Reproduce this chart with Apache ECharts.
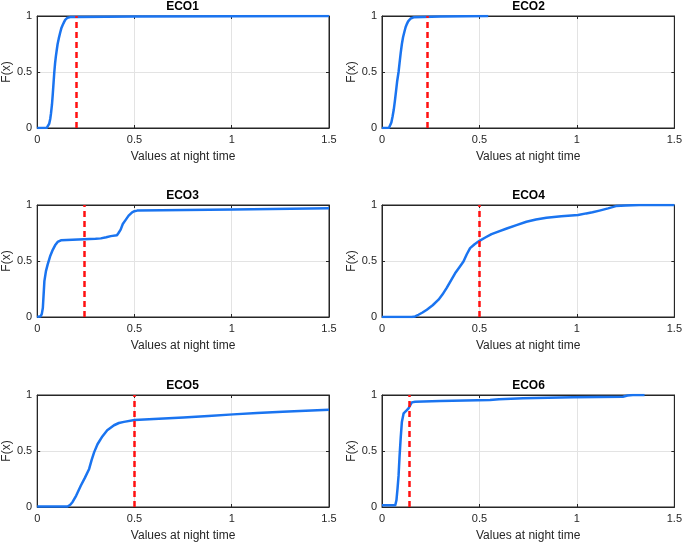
<!DOCTYPE html>
<html>
<head>
<meta charset="utf-8">
<script src="https://cdn.jsdelivr.net/npm/echarts@6/dist/echarts.min.js"></script>
<style>html,body{margin:0;padding:0;background:#fff}#c{width:685px;height:543px}</style>
</head>
<body>
<div id="c"></div>
<script>
const titles = ['ECO1','ECO2','ECO3','ECO4','ECO5','ECO6'];
const thresholds = [0.2, 0.233, 0.24, 0.5, 0.5, 0.14];
const xTicks = [0, 0.5, 1, 1.5];
const yTicks = [0, 0.5, 1];

const eco1X = [0, 0.05, 0.056, 0.062, 0.067, 0.071, 0.076, 0.08, 0.084, 0.088, 0.092, 0.096, 0.1, 0.105, 0.111, 0.118, 0.124, 0.131, 0.138, 0.144, 0.15, 0.156, 0.163, 0.17, 0.207, 0.5, 1.0, 1.5];
const eco1Y = [0, 0.003, 0.01, 0.04, 0.08, 0.13, 0.21, 0.3, 0.4, 0.5, 0.58, 0.64, 0.69, 0.75, 0.8, 0.85, 0.89, 0.92, 0.945, 0.965, 0.977, 0.985, 0.989, 0.99, 0.992, 0.995, 0.998, 1.0];

const eco2X = [0, 0.036, 0.042, 0.048, 0.054, 0.06, 0.066, 0.072, 0.078, 0.085, 0.09, 0.096, 0.102, 0.108, 0.115, 0.121, 0.128, 0.134, 0.14, 0.147, 0.153, 0.162, 0.17, 0.3, 0.545];
const eco2Y = [0, 0.003, 0.015, 0.05, 0.1, 0.16, 0.24, 0.33, 0.42, 0.5, 0.58, 0.67, 0.75, 0.81, 0.86, 0.9, 0.93, 0.952, 0.968, 0.978, 0.985, 0.988, 0.99, 0.995, 1.0];

const eco3X = [0, 0.018, 0.024, 0.029, 0.033, 0.037, 0.045, 0.054, 0.066, 0.08, 0.092, 0.105, 0.113, 0.122, 0.24, 0.3, 0.327, 0.355, 0.378, 0.41, 0.418, 0.429, 0.44, 0.454, 0.47, 0.488, 0.5, 0.514, 1.007, 1.5];
const eco3Y = [0, 0.006, 0.03, 0.08, 0.2, 0.32, 0.41, 0.47, 0.54, 0.6, 0.64, 0.67, 0.68, 0.685, 0.695, 0.698, 0.702, 0.712, 0.722, 0.73, 0.75, 0.78, 0.83, 0.865, 0.905, 0.935, 0.945, 0.95, 0.96, 0.97];

const eco4X = [0, 0.153, 0.17, 0.187, 0.208, 0.23, 0.26, 0.29, 0.31, 0.332, 0.355, 0.375, 0.4, 0.418, 0.435, 0.452, 0.475, 0.5, 0.53, 0.562, 0.6, 0.64, 0.69, 0.741, 0.79, 0.844, 0.92, 1.006, 1.048, 1.08, 1.116, 1.16, 1.2, 1.25, 1.32, 1.5];
const eco4Y = [0, 0, 0.005, 0.02, 0.04, 0.065, 0.105, 0.155, 0.2, 0.26, 0.33, 0.39, 0.45, 0.495, 0.56, 0.615, 0.65, 0.68, 0.71, 0.74, 0.765, 0.79, 0.82, 0.85, 0.87, 0.887, 0.9, 0.91, 0.925, 0.935, 0.95, 0.97, 0.99, 0.995, 1.0, 1.0];

const eco5X = [0, 0.156, 0.17, 0.182, 0.2, 0.224, 0.245, 0.267, 0.28, 0.293, 0.31, 0.335, 0.36, 0.395, 0.42, 0.446, 0.5, 0.6, 0.752, 0.88, 1.007, 1.13, 1.262, 1.38, 1.5];
const eco5Y = [0.005, 0.005, 0.02, 0.045, 0.1, 0.19, 0.26, 0.34, 0.42, 0.49, 0.56, 0.63, 0.685, 0.73, 0.75, 0.76, 0.776, 0.785, 0.80, 0.813, 0.827, 0.84, 0.851, 0.86, 0.869];

const eco6X = [0, 0.068, 0.074, 0.08, 0.085, 0.09, 0.096, 0.102, 0.111, 0.125, 0.136, 0.145, 0.153, 0.17, 0.298, 0.554, 0.6, 0.724, 0.98, 1.236, 1.26, 1.287, 1.347];
const eco6Y = [0.015, 0.015, 0.06, 0.17, 0.28, 0.45, 0.62, 0.76, 0.836, 0.86, 0.88, 0.91, 0.934, 0.94, 0.946, 0.955, 0.962, 0.97, 0.979, 0.985, 0.995, 1.0, 1.0];

const seriesX = [eco1X, eco2X, eco3X, eco4X, eco5X, eco6X];
const seriesY = [eco1Y, eco2Y, eco3Y, eco4Y, eco5Y, eco6Y];

const FONT = '"Liberation Sans", Arial, Helvetica, sans-serif';
const TXT = '#262626';
const lefts = [36, 382];
const tops = [16, 205, 395];
const W = 293, H = 112;

const grids = [], xAxes = [], yAxes = [], series = [], titleOpts = [];
for (let i = 0; i < 6; i++) {
  const col = i % 2, row = Math.floor(i / 2);
  const left = lefts[col], top = tops[row];
  grids.push({left: left, top: top, width: W, height: H, show: true, borderColor: TXT, borderWidth: 1, backgroundColor: '#fff'});
  titleOpts.push({text: titles[i], left: left + W / 2, top: top - 15, textAlign: 'center', padding: 0,
    textStyle: {fontFamily: FONT, fontSize: 12, fontWeight: 'bold', color: '#000'}});
  xAxes.push({type: 'value', gridIndex: i, min: xTicks[0], max: xTicks[xTicks.length - 1], interval: 0.5,
    name: 'Values at night time', nameLocation: 'middle', nameGap: 23,
    nameTextStyle: {fontFamily: FONT, fontSize: 12, color: TXT},
    axisLine: {show: true, onZero: false, lineStyle: {color: TXT}},
    axisTick: {show: true, inside: true, length: 3, lineStyle: {color: TXT}},
    axisLabel: {fontFamily: FONT, fontSize: 11, color: TXT, margin: 6},
    splitLine: {show: true, lineStyle: {color: '#e3e3e3', width: 1}}});
  xAxes.push({type: 'value', gridIndex: i, position: 'top', min: xTicks[0], max: xTicks[xTicks.length - 1], interval: 0.5,
    axisLine: {show: true, onZero: false, lineStyle: {color: TXT}},
    axisTick: {show: true, inside: true, length: 3, lineStyle: {color: TXT}},
    axisLabel: {show: false}, splitLine: {show: false}});
  yAxes.push({type: 'value', gridIndex: i, min: yTicks[0], max: yTicks[yTicks.length - 1], interval: 0.5,
    name: 'F(x)', nameLocation: 'middle', nameGap: 21, nameRotate: 90,
    nameTextStyle: {fontFamily: FONT, fontSize: 12, color: TXT},
    axisLine: {show: true, onZero: false, lineStyle: {color: TXT}},
    axisTick: {show: true, inside: true, length: 3, lineStyle: {color: TXT}},
    axisLabel: {fontFamily: FONT, fontSize: 11, color: TXT, margin: 5},
    splitLine: {show: true, lineStyle: {color: '#e3e3e3', width: 1}}});
  yAxes.push({type: 'value', gridIndex: i, position: 'right', min: yTicks[0], max: yTicks[yTicks.length - 1], interval: 0.5,
    axisLine: {show: true, onZero: false, lineStyle: {color: TXT}},
    axisTick: {show: true, inside: true, length: 3, lineStyle: {color: TXT}},
    axisLabel: {show: false}, splitLine: {show: false}});
  const data = seriesX[i].map((x, k) => [x, seriesY[i][k]]);
  series.push({type: 'line', xAxisIndex: 2 * i, yAxisIndex: 2 * i, data: data,
    showSymbol: false, smooth: false,
    lineStyle: {color: '#1a74f0', width: 2.5, join: 'round'}, z: 3,
    markLine: {silent: true, symbol: ['none', 'none'], label: {show: false},
      lineStyle: {color: '#ff1010', type: [6, 4], width: 2.5},
      data: [[{coord: [thresholds[i], 0]}, {coord: [thresholds[i], 1]}]]}});
}

const chart = echarts.init(document.getElementById('c'), null, {renderer: 'canvas'});
chart.setOption({animation: false, backgroundColor: '#fff', title: titleOpts, grid: grids, xAxis: xAxes, yAxis: yAxes, series: series});
</script>
</body>
</html>
